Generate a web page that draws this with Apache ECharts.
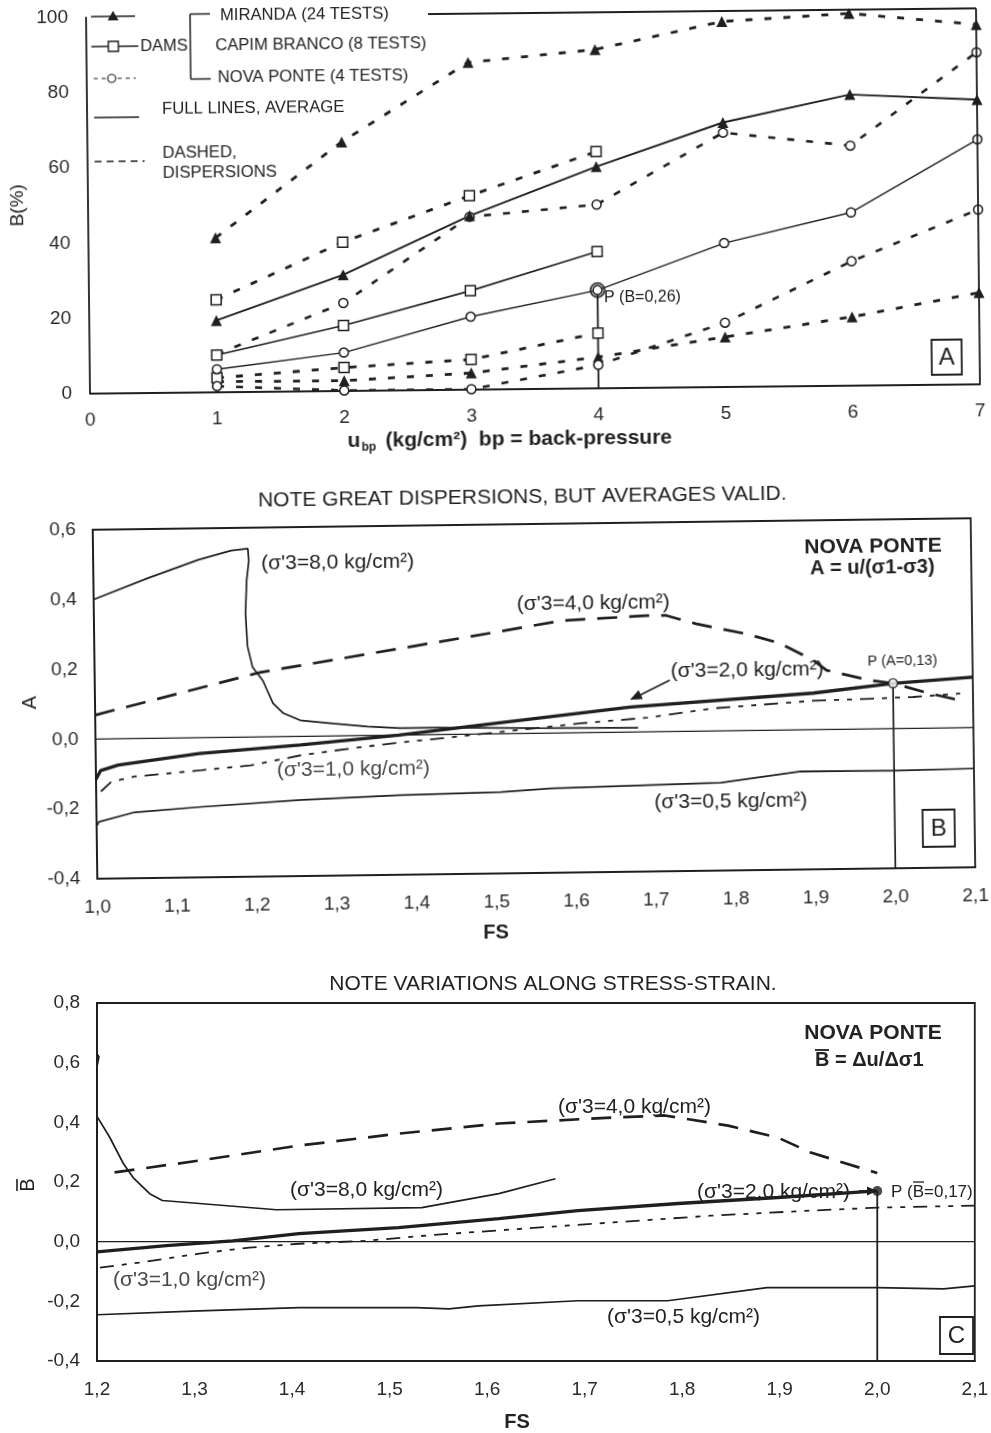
<!DOCTYPE html>
<html>
<head>
<meta charset="utf-8">
<title>Pore pressure parameters – Miranda, Capim Branco, Nova Ponte</title>
<script src="https://cdn.jsdelivr.net/npm/echarts@6/dist/echarts.min.js"></script>
<style>
  html, body { margin: 0; padding: 0; background: #ffffff; }
  .panel { position: absolute; left: 0; top: 0; width: 991px; height: 1433px; }
  #panelA { transform: rotate(-0.6deg); transform-origin: 533px 200px; }
  #panelB { transform: rotate(-0.75deg); transform-origin: 534px 700px; }
</style>
</head>
<body>
<div id="panelA" class="panel"></div>
<div id="panelB" class="panel"></div>
<div id="panelC" class="panel"></div>
<script>
// ---------- Panel A: B (%) against back-pressure, three dams ----------
const backPressure = [1, 2, 3, 4, 5, 6, 7];
const ticksPercent = [0, 20, 40, 60, 80, 100];
const mirandaAvg  = [19.0, 30.8, 46.2, 58.9, 70.3, 77.4, 75.7];
const mirandaHigh = [41.0, 66.2, 87.0, 90.1, 97.2, 99.0, 95.7];
const mirandaLow  = [2.7, 2.6, 4.3, 8.2, 13.2, 18.2, 24.3];
const capimAvg  = [9.8, 17.3, 26.2, 36.3];
const capimHigh = [24.5, 39.5, 51.5, 62.9];
const capimLow  = [3.7, 6.1, 7.9, 14.6];
const novaAvg  = [6.0, 10.1, 19.3, 26.0, 38.2, 46.0, 65.1];
const novaHigh = [10.0, 23.3, 45.9, 48.8, 67.6, 63.8, 88.3];
const novaLow  = [1.5, 0.0, 0.0, 6.1, 17.0, 33.0, 46.4];
const pointPA = [4, 26];

// ---------- Panel B: A = u/(σ1-σ3) against FS, Nova Ponte ----------
const ticksFsB = [1.0, 1.1, 1.2, 1.3, 1.4, 1.5, 1.6, 1.7, 1.8, 1.9, 2.0, 2.1];
const ticksA = [-0.4, -0.2, 0.0, 0.2, 0.4, 0.6];
const sigma8B = [[1.0,0.40],[1.069,0.46],[1.132,0.51],[1.173,0.535],[1.194,0.54],[1.195,0.505],[1.192,0.45],[1.190,0.355],[1.192,0.26],[1.198,0.20],[1.211,0.16],[1.216,0.133],[1.223,0.096],[1.236,0.067],[1.257,0.046],[1.298,0.036],[1.341,0.026],[1.382,0.02],[1.43,0.02],[1.55,0.015],[1.68,0.012]];
const sigma4B = [[1.0,0.069],[1.207,0.185],[1.499,0.29],[1.586,0.322],[1.692,0.333],[1.717,0.333],[1.754,0.308],[1.817,0.277],[1.858,0.25],[1.9,0.20],[1.917,0.17],[1.97,0.14],[2.0,0.13],[2.045,0.10],[2.09,0.075]];
const sigma2B = [[1.0,-0.115],[1.006,-0.09],[1.028,-0.075],[1.13,-0.045],[1.257,-0.024],[1.38,0.0],[1.48,0.025],[1.67,0.072],[1.9,0.105],[2.0,0.13],[2.1,0.145]];
const sigma1B = [[1.006,-0.15],[1.019,-0.123],[1.048,-0.109],[1.132,-0.093],[1.194,-0.081],[1.257,-0.054],[1.32,-0.036],[1.382,-0.021],[1.445,-0.008],[1.608,0.027],[1.692,0.041],[1.774,0.065],[1.9,0.083],[1.975,0.087],[2.025,0.09],[2.084,0.098]];
const sigma05B = [[1.0,-0.25],[1.003,-0.237],[1.048,-0.211],[1.132,-0.198],[1.257,-0.182],[1.382,-0.172],[1.507,-0.167],[1.57,-0.158],[1.783,-0.148],[1.883,-0.119],[2.0,-0.12],[2.1,-0.117]];
const pointPB = [2.0, 0.13];

// ---------- Panel C: B̄ = Δu/Δσ1 against FS, Nova Ponte ----------
const ticksFsC = [1.2, 1.3, 1.4, 1.5, 1.6, 1.7, 1.8, 1.9, 2.0, 2.1];
const ticksBbar = [-0.4, -0.2, 0.0, 0.2, 0.4, 0.6, 0.8];
const sigma8C = [[1.198,0.64],[1.202,0.62],[1.199,0.57],[1.194,0.5],[1.196,0.46],[1.2,0.42],[1.213,0.35],[1.227,0.262],[1.237,0.215],[1.254,0.161],[1.267,0.138],[1.305,0.128],[1.384,0.107],[1.533,0.114],[1.612,0.161],[1.67,0.211]];
const sigma4C = [[1.218,0.232],[1.305,0.272],[1.407,0.322],[1.509,0.362],[1.612,0.396],[1.727,0.416],[1.782,0.423],[1.847,0.389],[1.898,0.349],[1.931,0.30],[1.96,0.27],[2.0,0.23]];
const sigma2C = [[1.2,-0.034],[1.271,-0.013],[1.339,0.003],[1.407,0.027],[1.509,0.047],[1.612,0.077],[1.693,0.104],[1.796,0.128],[1.898,0.148],[2.0,0.17]];
const sigma1C = [[1.203,-0.087],[1.244,-0.07],[1.305,-0.04],[1.356,-0.02],[1.407,-0.007],[1.476,0.003],[1.543,0.022],[1.612,0.038],[1.727,0.064],[1.829,0.087],[1.931,0.104],[2.0,0.114],[2.1,0.121]];
const sigma05C = [[1.2,-0.245],[1.305,-0.232],[1.407,-0.221],[1.527,-0.221],[1.561,-0.225],[1.591,-0.215],[1.693,-0.198],[1.785,-0.198],[1.887,-0.154],[2.0,-0.154],[2.068,-0.158],[2.1,-0.148]];
const pointPC = [2.0, 0.17];

// ---------- shared styling ----------
const FONT = "'Liberation Sans', Arial, Helvetica, sans-serif";
const INK = '#1f1f1f';
const TXT = '#222222';

const comma1 = v => v.toFixed(1).replace('.', ',');
const pairs = (xs, ys) => ys.map((y, i) => [xs[i], y]);

function axisStyle(extra) {
  return Object.assign({
    type: 'value',
    axisLine: { show: true, onZero: false, lineStyle: { color: INK, width: 1.8 } },
    axisTick: { show: false },
    splitLine: { show: false },
    axisLabel: { fontSize: 19, color: '#2a2a2a', margin: 18, fontFamily: FONT, showMinLabel: true, showMaxLabel: true }
  }, extra);
}

function curve(data, width, dash, extra) {
  return Object.assign({
    type: 'line', data: data, symbol: 'none', silent: true, animation: false,
    lineStyle: { color: INK, width: width, type: dash || 'solid', cap: 'butt' },
    z: 3
  }, extra || {});
}

function marked(data, symbol, size, filled, width, dash) {
  return {
    type: 'line', data: data, symbol: symbol, symbolSize: size, silent: true, animation: false,
    lineStyle: { color: INK, width: width, type: dash || 'solid', cap: 'butt' },
    itemStyle: filled ? { color: INK } : { color: '#ffffff', borderColor: INK, borderWidth: 1.5 },
    z: 4
  };
}

function T(x, y, text, size, opt) {
  opt = opt || {};
  return {
    type: 'text', x: x, y: y, rotation: opt.rot || 0, silent: true, z: 20,
    style: {
      text: text, fontSize: size, fontFamily: FONT, fontWeight: opt.bold ? 'bold' : 'normal',
      fill: opt.fill || TXT, align: opt.align || 'left', verticalAlign: 'middle'
    }
  };
}
function L(x1, y1, x2, y2, w, dash) {
  return { type: 'line', silent: true, z: 20, shape: { x1: x1, y1: y1, x2: x2, y2: y2 },
           style: { stroke: INK, lineWidth: w, lineDash: dash || null } };
}
function box(x, y, w, h) {
  return { type: 'rect', silent: true, z: 19, shape: { x: x, y: y, width: w, height: h },
           style: { fill: '#ffffff', stroke: INK, lineWidth: 1.8 } };
}
function arrowHead(points) {
  return { type: 'polygon', silent: true, z: 20, shape: { points: points }, style: { fill: INK } };
}

// ---------- Panel A ----------
const dashA = [7, 12];
const chartA = echarts.init(document.getElementById('panelA'), null, { width: 991, height: 1433 });
chartA.setOption({
  animation: false,
  textStyle: { fontFamily: FONT },
  grid: { left: 88, top: 13, width: 890, height: 375.5 },
  xAxis: axisStyle({ min: 0, max: 7, interval: 1 }),
  yAxis: axisStyle({ min: ticksPercent[0], max: ticksPercent[ticksPercent.length - 1], interval: 20 }),
  series: [
    marked(pairs(backPressure, mirandaHigh), 'triangle', 11, true, 2.8, dashA),
    marked(pairs(backPressure, mirandaLow), 'triangle', 11, true, 2.8, dashA),
    marked(pairs(backPressure, capimHigh), 'rect', 10, false, 2.8, dashA),
    marked(pairs(backPressure, capimLow), 'rect', 10, false, 2.8, dashA),
    marked(pairs(backPressure, novaHigh), 'circle', 9, false, 2.6, dashA),
    marked(pairs(backPressure, novaLow), 'circle', 9, false, 2.6, dashA),
    marked(pairs(backPressure, mirandaAvg), 'triangle', 11, true, 1.9),
    marked(pairs(backPressure, capimAvg), 'rect', 10, false, 1.6),
    marked(pairs(backPressure, novaAvg), 'circle', 9, false, 1.4),
    curve([[pointPA[0], 0], pointPA], 1.8),
    { type: 'scatter', data: [pointPA], symbol: 'circle', symbolSize: 14, silent: true, z: 6,
      itemStyle: { color: 'rgba(255,255,255,0)', borderColor: INK, borderWidth: 2.2 } }
  ],
  graphic: [
    L(430, 13, 978, 13, 1.8),
    L(978, 13, 978, 388.5, 1.8),
    // legend
    L(93, 12, 137, 12, 1.5),
    arrowHead([[115, 6.5], [109.5, 16], [120.5, 16]]),
    T(222, 12.5, 'MIRANDA (24 TESTS)', 16.6),
    L(192, 10.5, 192, 75.5, 1.5), L(192, 10.5, 212, 10.5, 1.5), L(192, 75.5, 212, 75.5, 1.5),
    L(93, 42, 140, 42, 1.5),
    { type: 'rect', silent: true, z: 21, shape: { x: 110, y: 37, width: 10, height: 10 },
      style: { fill: '#fff', stroke: INK, lineWidth: 1.4 } },
    T(142, 42.5, 'DAMS', 16.4),
    T(217, 42.5, 'CAPIM BRANCO (8 TESTS)', 16.6),
    L(95, 74, 137, 74, 1, [4, 4]),
    { type: 'circle', silent: true, z: 21, shape: { cx: 113, cy: 74, r: 4 },
      style: { fill: '#fff', stroke: INK, lineWidth: 1.2 } },
    T(219, 74, 'NOVA PONTE (4 TESTS)', 16.6),
    L(95, 113, 140, 113, 1.5),
    T(163, 105, 'FULL LINES, AVERAGE', 16.7),
    L(95, 157, 145, 157, 1.5, [7, 5]),
    T(163, 149, 'DASHED,', 16.7),
    T(163, 169, 'DISPERSIONS', 16.7),
    // point P
    T(603, 299, 'P (B=0,26)', 16),
    // panel tag
    box(930, 344, 30, 35),
    T(945, 362, 'A', 24, { align: 'center' }),
    // axis names
    T(18, 200, 'B(%)', 19, { rot: Math.PI / 2, align: 'center' }),
    T(345, 439, 'u', 21, { bold: true }),
    T(359, 446, 'bp', 12, { bold: true }),
    T(383, 439, '(kg/cm²)  bp = back-pressure', 21, { bold: true })
  ]
});

// ---------- Panel B ----------
const chartB = echarts.init(document.getElementById('panelB'), null, { width: 991, height: 1433 });
chartB.setOption({
  animation: false,
  textStyle: { fontFamily: FONT },
  grid: { left: 95, top: 524, width: 878, height: 349, show: true, borderColor: INK, borderWidth: 1.8 },
  xAxis: axisStyle({ min: ticksFsB[0], max: ticksFsB[ticksFsB.length - 1], interval: 0.1,
    axisLabel: { fontSize: 19, color: '#2a2a2a', margin: 19, fontFamily: FONT, formatter: comma1, showMaxLabel: true } }),
  yAxis: axisStyle({ min: ticksA[0], max: ticksA[ticksA.length - 1], interval: 0.2,
    axisLabel: { fontSize: 19, color: '#2a2a2a', margin: 17, fontFamily: FONT, formatter: comma1 } }),
  series: [
    curve([[ticksFsB[0], 0], [ticksFsB[ticksFsB.length - 1], 0]], 1.4),
    curve([[pointPB[0], ticksA[0]], pointPB], 1.7),
    curve(sigma05B, 1.7),
    curve(sigma1B, 1.8, [14, 8, 5, 8, 5, 8]),
    curve(sigma8B, 1.7),
    curve(sigma4B, 2.7, [20, 12]),
    curve(sigma2B, 3.3),
    { type: 'scatter', data: [pointPB], symbol: 'circle', symbolSize: 9, silent: true, z: 6,
      itemStyle: { color: '#fff', borderColor: INK, borderWidth: 1.6 } }
  ],
  graphic: [
    T(525, 497, 'NOTE GREAT DISPERSIONS, BUT AVERAGES VALID.', 21, { align: 'center' }),
    T(875, 551, 'NOVA PONTE', 21, { bold: true, align: 'center' }),
    T(874, 572, 'A = u/(σ1-σ3)', 20, { bold: true, align: 'center' }),
    T(263, 560, "(σ'3=8,0 kg/cm²)", 21),
    T(518, 604, "(σ'3=4,0 kg/cm²)", 21),
    T(671, 673, "(σ'3=2,0 kg/cm²)", 21),
    T(868, 666, 'P (A=0,13)', 14.5),
    T(276, 767, "(σ'3=1,0 kg/cm²)", 21, { fill: '#4a4a4a' }),
    T(653, 804, "(σ'3=0,5 kg/cm²)", 21),
    L(670, 682, 640, 696.5, 1.6),
    arrowHead([[630, 701], [642.9, 700.4], [638.7, 691.4]]),
    box(921, 815, 32, 37),
    T(937, 834, 'B', 24, { align: 'center' }),
    T(30, 696, 'A', 20, { rot: Math.PI / 2, align: 'center' }),
    T(493, 932, 'FS', 20, { bold: true, align: 'center' })
  ]
});

// ---------- Panel C ----------
const chartC = echarts.init(document.getElementById('panelC'), null, { width: 991, height: 1433 });
chartC.setOption({
  animation: false,
  textStyle: { fontFamily: FONT },
  grid: { left: 97, top: 1003, width: 881, height: 358, show: true, borderColor: INK, borderWidth: 1.8 },
  xAxis: axisStyle({ min: ticksFsC[0], max: ticksFsC[ticksFsC.length - 1], interval: 0.1,
    axisLabel: { fontSize: 19, color: '#2a2a2a', margin: 19, fontFamily: FONT, formatter: comma1, showMaxLabel: true } }),
  yAxis: axisStyle({ min: ticksBbar[0], max: ticksBbar[ticksBbar.length - 1], interval: 0.2,
    axisLabel: { fontSize: 19, color: '#2a2a2a', margin: 17, fontFamily: FONT, formatter: comma1 } }),
  series: [
    curve([[ticksFsC[0], 0], [ticksFsC[ticksFsC.length - 1], 0]], 1.4),
    curve([[pointPC[0], ticksBbar[0]], pointPC], 1.8),
    curve(sigma05C, 1.7),
    curve(sigma1C, 1.8, [14, 8, 5, 8, 5, 8]),
    curve(sigma8C, 1.7, null, { clip: false }),
    curve(sigma4C, 2.7, [20, 12]),
    curve(sigma2C, 3.3),
    { type: 'scatter', data: [pointPC], symbol: 'circle', symbolSize: 10, silent: true, z: 6,
      itemStyle: { color: INK } }
  ],
  graphic: [
    T(553, 984, 'NOTE VARIATIONS ALONG STRESS-STRAIN.', 21, { align: 'center' }),
    T(873, 1033, 'NOVA PONTE', 21, { bold: true, align: 'center' }),
    T(815, 1060, 'B = Δu/Δσ1', 20, { bold: true }),
    L(815, 1050, 829, 1050, 1.8),
    T(558, 1107, "(σ'3=4,0 kg/cm²)", 21),
    T(290, 1190, "(σ'3=8,0 kg/cm²)", 21),
    T(697, 1192, "(σ'3=2,0 kg/cm²)", 21),
    L(859, 1191, 869, 1191, 1.6),
    arrowHead([[877, 1191], [867, 1186.5], [867, 1195.5]]),
    T(891, 1192, 'P (B=0,17)', 17),
    L(913, 1182, 924, 1182, 1.3),
    T(113, 1280, "(σ'3=1,0 kg/cm²)", 21, { fill: '#4a4a4a' }),
    T(607, 1317, "(σ'3=0,5 kg/cm²)", 21),
    box(940, 1317, 33, 37),
    T(956.5, 1336, 'C', 24, { align: 'center' }),
    T(28, 1185, 'B', 20, { rot: Math.PI / 2, align: 'center' }),
    L(17, 1179, 17, 1191, 1.6),
    T(517, 1422, 'FS', 20, { bold: true, align: 'center' })
  ]
});
</script>
</body>
</html>
